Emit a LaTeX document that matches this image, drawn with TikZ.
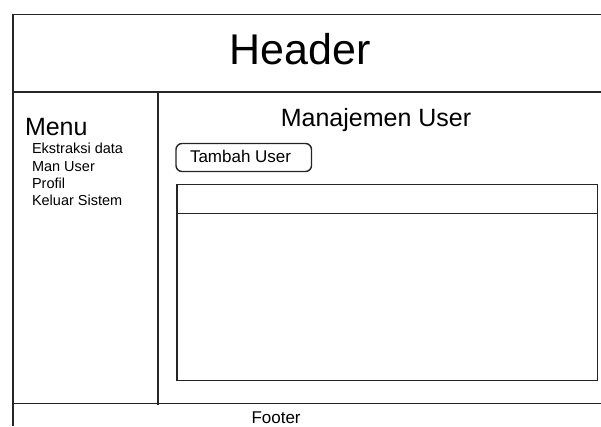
\documentclass[tikz,border=0pt]{standalone}
\usepackage{fontspec}
\setmainfont{Liberation Sans}
\begin{document}
\begin{tikzpicture}[x=1pt,y=-1pt,
  frame/.style={line width=1.6pt,draw=black!85},
  txt/.style={inner sep=0pt,outer sep=0pt,text=black},
  fs/.style={font=\fontsize{#1}{#1}\selectfont}]
\useasboundingbox (0,0) rectangle (601,426);
% frame lines
\coordinate (tl) at (13,14.5);
\coordinate (tr) at (601,14.5);
\coordinate (bl) at (13,426);
\coordinate (hl) at (13,92);
\coordinate (hr) at (601,92);
\coordinate (fl) at (13,403.5);
\coordinate (fr) at (601,403.5);
\coordinate (dt) at (158,92);
\coordinate (db) at (158,404.5);
\draw[frame] (tr) -- (tl) -- (bl);
\draw[frame] (hl) -- (hr);
\draw[frame] (fl) -- (fr);
\draw[frame] (dt) -- (db);
% header
\node[txt,fs=43,anchor=base] (header) at (300,64) {Header};
% menu
\node[txt,fs=25,anchor=base west] (menu) at (25,135.5) {Menu};
\node[txt,fs=14.5,anchor=base west] (m1) at (32,153.3) {Ekstraksi data};
\node[txt,fs=14.5,anchor=base west] (m2) at (32,171) {Man User};
\node[txt,fs=14.5,anchor=base west] (m3) at (32,188.3) {Profil};
\node[txt,fs=14.5,anchor=base west] (m4) at (32,205.7) {Keluar Sistem};
% content
\node[txt,fs=25,anchor=base] (title) at (376,126.7) {Manajemen User};
\draw[frame,line width=1.4pt,rounded corners=6pt] (176,143.5) rectangle (311.5,171.5);
\node[txt,fs=17,anchor=base west] (btn) at (190,162.7) {Tambah User};
\draw[frame,line width=1.4pt] (177,184.5) rectangle (597.5,380.5);
\coordinate (rl) at (177,213.5);
\coordinate (rr) at (597.5,213.5);
\draw[frame,line width=1.4pt] (rl) -- (rr);
% footer
\node[txt,fs=17,anchor=base west] (footer) at (251.5,423) {Footer};
\end{tikzpicture}
\end{document}
